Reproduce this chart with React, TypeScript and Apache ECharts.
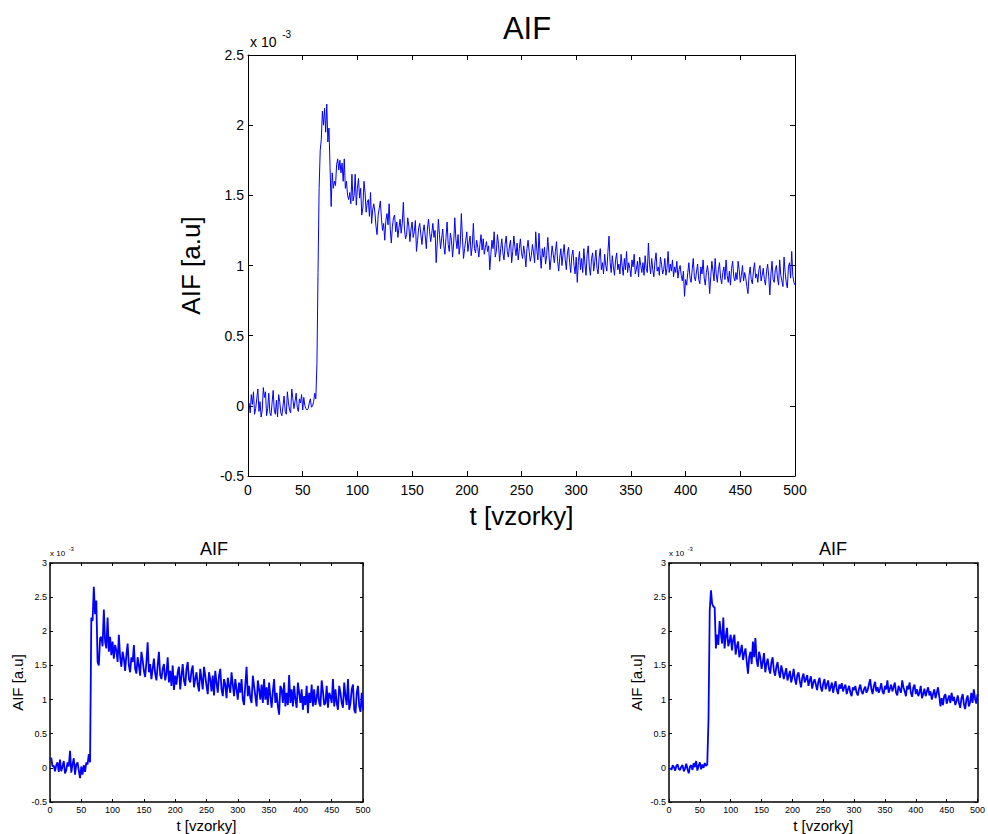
import React, { useEffect, useRef } from "react";
import * as echarts from "echarts";

// Values in units of 1e-3 (the axis shows "x 10^-3")
// Main plot: samples 1..500
const MAIN_Y: number[] = [
  0.02, -0.05, 0.08, 0.01, 0.1, -0.06, -0.02, 0.05, 0.12, -0.04,
  0.03, -0.08, -0.03, 0.13, 0.06, 0.1, -0.07, -0.02, 0.09, -0.05,
  -0.07, 0.02, 0.11, -0.03, -0.06, 0.04, -0.08, 0.08, 0.03, -0.05,
  -0.07, 0.0, 0.07, -0.04, -0.06, 0.1, 0.02, -0.03, -0.05, 0.12,
  0.05, -0.02, 0.03, 0.09, -0.01, -0.04, 0.05, 0.02, 0.08, -0.03,
  0.06, 0.0, -0.02, -0.03, -0.02, 0.02, 0.05, -0.01, 0.0, 0.03,
  0.09, 0.05, 0.3, 0.95, 1.55, 1.82, 1.9, 2.1, 2.0, 2.12,
  1.95, 2.15, 1.88, 1.98, 1.7, 1.42, 1.66, 1.55, 1.6, 1.57,
  1.72, 1.76, 1.68, 1.75, 1.66, 1.73, 1.6, 1.76, 1.55, 1.6,
  1.5, 1.47, 1.52, 1.44, 1.65, 1.46, 1.5, 1.65, 1.43, 1.55,
  1.62, 1.48, 1.55, 1.36, 1.41, 1.6, 1.52, 1.38, 1.45, 1.47,
  1.35, 1.52, 1.3, 1.4, 1.44, 1.38, 1.28, 1.22, 1.36, 1.41,
  1.46, 1.33, 1.25, 1.3, 1.18, 1.32, 1.37, 1.29, 1.44, 1.26,
  1.16, 1.28, 1.34, 1.36, 1.24, 1.31, 1.2, 1.27, 1.33, 1.23,
  1.3, 1.45, 1.26, 1.19, 1.22, 1.34, 1.28, 1.17, 1.26, 1.31,
  1.2, 1.24, 1.32, 1.1, 1.18, 1.27, 1.3, 1.22, 1.15, 1.24,
  1.29, 1.21, 1.12, 1.26, 1.33, 1.24, 1.17, 1.23, 1.3, 1.2,
  1.25, 1.02, 1.16, 1.33, 1.22, 1.12, 1.19, 1.26, 1.14, 1.08,
  1.2, 1.31, 1.15, 1.1, 1.23, 1.18, 1.06, 1.16, 1.34, 1.19,
  1.12, 1.22, 1.08, 1.15, 1.37, 1.2, 1.05, 1.12, 1.18, 1.24,
  1.1, 1.16, 1.21, 1.07, 1.14, 1.3, 1.12, 1.09, 1.18, 1.13,
  1.06, 1.15, 1.22, 1.11, 1.19, 1.08, 1.13, 1.17, 1.1, 1.14,
  0.97, 1.08, 1.18, 1.12, 1.24, 1.06, 1.1, 1.22, 1.15, 1.03,
  1.12, 1.19, 1.09, 1.04, 1.15, 1.21, 1.1, 1.06, 1.14, 1.18,
  1.02, 1.1, 1.21, 1.13, 1.07, 1.16, 1.04, 1.12, 1.19, 1.09,
  1.05, 1.14, 1.08, 0.99, 1.12, 1.18, 1.1, 1.03, 1.07, 1.15,
  1.09, 1.02, 1.24, 1.11, 1.04, 1.23, 1.08, 0.98, 1.12, 1.06,
  1.13, 1.01, 1.07, 1.2, 1.09, 0.97, 1.05, 1.14, 1.08, 1.02,
  1.1, 1.17, 1.03, 0.96, 1.06, 1.12, 1.0, 1.08, 1.15, 1.04,
  0.97, 1.09, 1.13, 1.02, 0.95, 1.07, 1.11, 1.0, 0.94, 1.06,
  0.88, 1.03, 1.1, 0.97, 1.05, 0.95, 1.12, 1.01, 0.93, 1.08,
  1.14, 0.99, 0.93, 1.05, 1.09, 0.96, 1.03, 1.11, 0.98, 0.94,
  1.06, 1.12, 0.97, 1.02, 0.94, 1.08, 1.0, 0.96, 1.1, 1.21,
  1.02, 0.95, 1.07, 0.99, 0.93, 1.04, 1.09, 0.97, 1.01, 0.94,
  1.08, 1.0, 0.93, 1.05, 0.97, 1.1, 0.95, 1.02, 0.98, 0.92,
  1.04, 0.99, 1.08, 0.94, 0.97, 1.03, 0.92, 1.06, 1.0, 0.95,
  1.02, 0.93, 1.07, 0.98, 0.95, 1.16, 1.01, 0.94, 1.05, 0.97,
  0.92, 1.03, 1.09, 0.96, 0.99, 0.93, 1.06, 1.01, 0.94, 0.97,
  1.05, 0.93, 0.98, 1.1, 0.95, 1.01, 0.96, 1.04, 0.92, 0.99,
  0.95, 1.03, 0.91, 0.97, 1.0, 0.93, 0.89, 0.96, 0.78, 0.9,
  0.86, 0.95, 1.02, 0.91, 0.88, 0.97, 1.05, 0.92, 0.89, 0.96,
  1.01, 0.9, 0.87, 0.99, 0.94, 1.04, 0.91, 0.86, 0.95, 1.0,
  0.93, 0.8, 0.92, 1.03, 0.96, 0.89, 1.05, 0.94, 0.88, 0.97,
  1.02, 0.91, 0.87, 0.95, 0.99, 0.9, 1.04, 0.93, 0.88, 0.96,
  0.86, 0.98, 1.03, 0.92, 0.89, 0.95, 0.9, 1.03, 0.97, 0.88,
  0.93, 1.0, 0.89, 0.95, 0.91, 0.85, 0.8, 0.93, 0.99, 0.9,
  0.87, 0.96, 1.02, 0.91, 0.94, 0.88, 0.97, 1.0, 0.89, 0.93,
  0.98, 0.9, 0.86, 0.96, 1.01, 0.92, 0.79, 0.94, 1.03, 0.9,
  0.88, 0.97, 1.0, 0.91, 0.86, 1.04, 0.93, 0.89, 0.85, 1.06,
  0.95, 0.88, 0.84, 0.99, 1.02, 0.91, 1.1, 0.93, 0.88, 0.86,
];

// Lower-left plot: samples 2, 4, ..., 500
const LEFT_Y: number[] = [
  0.15, 0.02, 0.03, -0.05, 0.04, 0.08, -0.06, 0.12, -0.05, 0.02,
  0.1, -0.08, -0.03, 0.08, 0.02, 0.25, -0.07, 0.05, 0.14, -0.1,
  0.05, 0.08, -0.04, -0.15, 0.02, -0.1, 0.04, -0.06, 0.08, 0.05,
  0.2, 0.08, 2.2, 2.15, 2.65, 2.25, 2.45, 1.55, 1.5, 1.9,
  1.92, 1.78, 2.32, 1.85, 1.75, 2.2, 1.7, 1.92, 1.65, 1.85,
  1.6, 1.8, 1.72, 1.55, 1.95, 1.62, 1.48, 1.7, 1.6, 1.42,
  1.65, 1.82, 1.5, 1.4, 1.62, 1.55, 1.8, 1.45, 1.38, 1.62,
  1.5, 1.35, 1.7, 1.58, 1.42, 1.33, 1.55, 1.84, 1.4, 1.52,
  1.3, 1.45, 1.6, 1.38, 1.28, 1.5, 1.7, 1.36, 1.3, 1.45,
  1.52, 1.28, 1.38, 1.62, 1.25, 1.42, 1.2, 1.5, 1.14, 1.35,
  1.22, 1.4, 1.48, 1.15, 1.35, 1.52, 1.28, 1.2, 1.45, 1.55,
  1.3, 1.25, 1.42, 1.5, 1.18, 1.3, 1.4, 1.22, 1.12, 1.45,
  1.3, 1.15, 1.48, 1.35, 1.2, 1.08, 1.4, 1.3, 1.12, 1.35,
  1.06, 1.42, 1.25, 1.1, 1.35, 1.45, 1.15, 1.05, 1.3, 1.22,
  1.02, 1.32, 1.2, 1.1, 1.4, 1.22, 1.05, 1.3, 1.15, 1.0,
  1.25, 1.1, 1.3, 1.0, 0.92, 1.22, 1.48, 1.05, 1.2, 1.02,
  0.95, 1.35, 1.2, 1.05, 0.9, 1.28, 1.15, 1.0, 1.22, 0.95,
  1.3, 1.0, 1.18, 0.92, 1.25, 1.05, 0.88, 1.12, 1.3, 0.95,
  1.1, 0.9, 0.78, 1.2, 1.15, 0.95, 1.25, 0.9, 1.1, 0.92,
  1.36, 0.95, 1.15, 0.9, 1.2, 1.0, 0.88, 1.25, 1.1, 0.95,
  1.15, 0.85, 1.05, 0.92, 1.2, 0.8, 1.1, 0.95, 1.22, 0.9,
  1.15, 0.92, 1.02, 1.2, 0.95, 0.9, 1.28, 1.12, 0.92, 0.95,
  1.2, 0.88, 1.1, 1.05, 0.95, 1.3, 0.9, 1.15, 0.95, 0.85,
  1.2, 1.1, 0.95, 0.88, 1.25, 1.05, 0.92, 1.3, 0.85, 0.95,
  1.15, 1.22, 0.85, 0.8, 1.1, 1.2, 0.9, 0.82, 1.1, 0.85,
];

// Lower-right plot: samples 2, 4, ..., 500
const RIGHT_Y: number[] = [
  0.0, -0.03, 0.04, 0.01, -0.04, 0.03, 0.05, -0.02, -0.03, 0.02,
  0.04, -0.05, -0.01, 0.06, -0.02, -0.08, 0.02, 0.04, -0.03, 0.07,
  0.01, 0.1, -0.04, 0.03, 0.08, -0.02, 0.05, 0.0, 0.07, 0.03,
  0.05, 0.7, 2.3, 2.6, 2.4, 2.36, 2.35, 1.75, 1.95, 1.8,
  2.15, 1.98, 1.82, 2.2, 1.75, 1.92, 2.05, 1.78, 1.85, 1.95,
  1.72, 1.88, 1.95, 1.66, 1.78, 1.85, 1.62, 1.7, 1.8, 1.58,
  1.68, 1.75, 1.55, 1.38, 1.62, 1.7, 1.52, 1.85, 1.62, 1.9,
  1.58, 1.48, 1.7, 1.62, 1.45, 1.55, 1.68, 1.4, 1.52, 1.6,
  1.45, 1.38, 1.55, 1.62, 1.42, 1.35, 1.48, 1.55, 1.4, 1.32,
  1.5, 1.42, 1.3, 1.38, 1.46, 1.28, 1.35, 1.42, 1.25, 1.33,
  1.45, 1.3, 1.22, 1.36, 1.4, 1.27, 1.18, 1.32, 1.38, 1.25,
  1.3, 1.36, 1.2, 1.28, 1.34, 1.16, 1.25, 1.3, 1.22, 1.14,
  1.26, 1.32, 1.18, 1.12, 1.24, 1.3, 1.15, 1.22, 1.28, 1.12,
  1.18, 1.25, 1.1, 1.2, 1.27, 1.14, 1.08, 1.22, 1.16, 1.24,
  1.12, 1.18, 1.22, 1.08, 1.15, 1.2, 1.1, 1.05, 1.18, 1.14,
  1.2, 1.1, 1.06, 1.16, 1.22, 1.12, 1.08, 1.15, 1.19, 1.1,
  1.14, 1.22, 1.3, 1.15, 1.08, 1.2, 1.26, 1.12, 1.18, 1.1,
  1.16, 1.24, 1.12, 1.08, 1.2, 1.15, 1.28, 1.1, 1.16, 1.22,
  1.12, 1.18, 1.25, 1.1, 1.06, 1.2, 1.15, 1.1, 1.28, 1.18,
  1.12, 1.05, 1.2, 1.15, 1.25, 1.1, 1.04, 1.18, 1.22, 1.08,
  1.15, 1.05, 1.1, 1.2, 1.02, 1.08, 1.16, 1.05, 1.12, 1.18,
  1.06, 1.12, 1.0, 1.08, 1.15, 1.02, 1.1, 1.18, 1.05, 0.9,
  1.02, 0.92, 1.05, 1.08, 0.94, 1.0, 1.06, 0.95, 1.1, 0.98,
  1.04, 0.92, 0.98, 1.06, 0.95, 0.88, 1.02, 1.08, 0.93, 0.86,
  1.0, 1.06, 0.9, 0.96, 1.1, 0.95, 1.15, 1.02, 0.94, 1.08,
];

const X_MIN = 0;
const X_MAX = 500;
const X_STEP = 50;
const MAIN_Y_MIN = -0.5;
const MAIN_Y_MAX = 2.5;
const SMALL_Y_MIN = -0.5;
const SMALL_Y_MAX = 3;
const Y_STEP = 0.5;

const TITLE = "AIF";
const X_NAME = "t [vzorky]";
const Y_NAME = "AIF [a.u]";

const FONT = "'Liberation Sans', Arial, Helvetica, sans-serif";

export default function App() {
  const ref = useRef<HTMLDivElement>(null);

  useEffect(() => {
    if (!ref.current) return;
    const chart = echarts.init(ref.current, undefined, { renderer: "svg" });

    const grids = [
      { left: 248, top: 55, width: 547, height: 421 },
      { left: 50, top: 563, width: 313, height: 240 },
      { left: 669, top: 563, width: 314, height: 240 },
    ];
    const big = [true, false, false];

    const xAxes: any[] = [];
    const yAxes: any[] = [];
    grids.forEach((g, gi) => {
      const isBig = big[gi];
      const lw = isBig ? 1 : 1.5;
      const tl = isBig ? 5 : 3;
      const lblSize = isBig ? 14 : 9;
      const axisLine = { show: true, onZero: false, lineStyle: { color: "#000", width: lw } };
      const axisTick = { show: true, inside: true, length: tl, lineStyle: { color: "#000", width: 1 } };
      const yMin = isBig ? MAIN_Y_MIN : SMALL_Y_MIN;
      const yMax = isBig ? MAIN_Y_MAX : SMALL_Y_MAX;
      xAxes.push({
        type: "value", gridIndex: gi, position: "bottom",
        min: X_MIN, max: X_MAX, interval: X_STEP,
        axisLine, axisTick, splitLine: { show: false },
        axisLabel: { color: "#000", fontFamily: FONT, fontSize: lblSize, margin: isBig ? 7 : 3 },
        name: X_NAME, nameLocation: "middle", nameGap: isBig ? 27 : 16,
        nameTextStyle: { color: "#000", fontFamily: FONT, fontSize: isBig ? 26 : 15 },
      });
      xAxes.push({
        type: "value", gridIndex: gi, position: "top",
        min: X_MIN, max: X_MAX, interval: X_STEP,
        axisLine, axisTick, splitLine: { show: false },
        axisLabel: { show: false },
      });
      yAxes.push({
        type: "value", gridIndex: gi, position: "left",
        min: yMin, max: yMax, interval: Y_STEP,
        axisLine, axisTick, splitLine: { show: false },
        axisLabel: { color: "#000", fontFamily: FONT, fontSize: lblSize, margin: isBig ? 4 : 3 },
        name: Y_NAME, nameLocation: "middle", nameGap: isBig ? 44 : 25, nameRotate: 90,
        nameTextStyle: { color: "#000", fontFamily: FONT, fontSize: isBig ? 26 : 15 },
      });
      yAxes.push({
        type: "value", gridIndex: gi, position: "right",
        min: yMin, max: yMax, interval: Y_STEP,
        axisLine, axisTick, splitLine: { show: false },
        axisLabel: { show: false },
      });
    });

    const mainData = MAIN_Y.map((v, i) => [i + 1, v]);
    const leftData = LEFT_Y.map((v, i) => [(i + 1) * 2, v]);
    const rightData = RIGHT_Y.map((v, i) => [(i + 1) * 2, v]);

    const mkSeries = (data: number[][], gi: number, w: number) => ({
      type: "line",
      xAxisIndex: gi * 2,
      yAxisIndex: gi * 2,
      data,
      showSymbol: false,
      symbol: "none",
      lineStyle: { color: "#0000ff", width: w },
      silent: true,
    });

    const expText = (x: number, y: number, s1: number, s2: number) => [
      { type: "text", left: x, top: y, style: { text: "x 10", fontFamily: FONT, fontSize: s1, fill: "#000" } },
      { type: "text", left: x + s1 * 2.3, top: y - s1 * 0.4, style: { text: "-3", fontFamily: FONT, fontSize: s2, fill: "#000" } },
    ];

    chart.setOption({
      animation: false,
      backgroundColor: "#fff",
      title: [
        { text: TITLE, left: 522, top: 8, textAlign: "center", textStyle: { fontFamily: FONT, fontSize: 31, fontWeight: "normal", color: "#000" } },
        { text: TITLE, left: 209, top: 535, textAlign: "center", textStyle: { fontFamily: FONT, fontSize: 18, fontWeight: "normal", color: "#000" } },
        { text: TITLE, left: 828, top: 535, textAlign: "center", textStyle: { fontFamily: FONT, fontSize: 18, fontWeight: "normal", color: "#000" } },
      ],
      grid: grids,
      xAxis: xAxes,
      yAxis: yAxes,
      series: [mkSeries(mainData, 0, 1), mkSeries(leftData, 1, 1.8), mkSeries(rightData, 2, 1.8)],
      graphic: [
        ...expText(250, 35, 14, 10),
        ...expText(50, 549, 8, 6),
        ...expText(669, 549, 8, 6),
      ],
    });

    return () => chart.dispose();
  }, []);

  return (
    <div
      ref={ref}
      style={{ position: "absolute", left: 0, top: 0, width: 988, height: 834 }}
    />
  );
}
